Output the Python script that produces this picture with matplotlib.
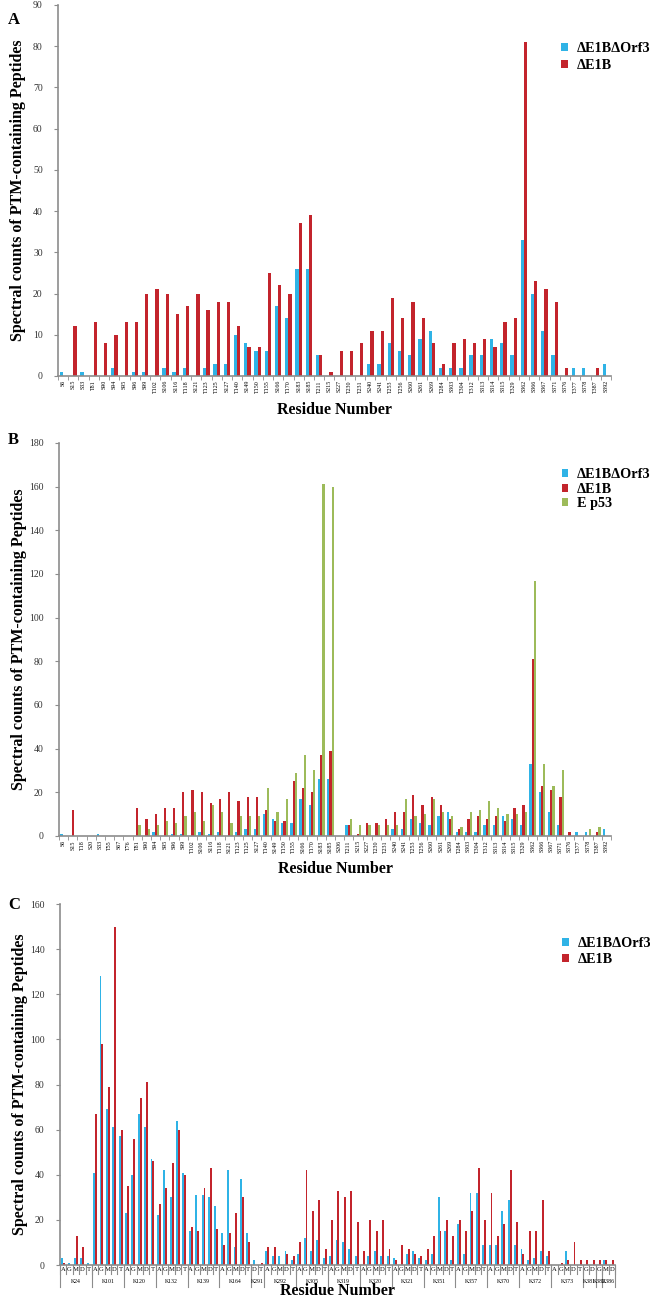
import matplotlib.pyplot as plt
import numpy as np
from matplotlib.transforms import blended_transform_factory

plt.rcParams['font.family'] = ['Liberation Serif', 'DejaVu Serif']

BLUE = '#2FB3E6'
RED = '#C3242C'
GREEN = '#9DBB5A'
GRAY = '#8c8c8c'

# panel A
a_labels = ['S6', 'S15', 'S33', 'T81', 'S90', 'S94', 'S95', 'S96', 'S99', 'T102',
            'S106', 'S116', 'T118', 'S121', 'T123', 'T125', 'S127', 'T140', 'S149', 'T150',
            'T155', 'S166', 'T170', 'S183', 'S185', 'T211', 'S215', 'S227', 'T230', 'T231',
            'S240', 'S241', 'T253', 'T256', 'S260', 'S261', 'S269', 'T284', 'S303', 'T304',
            'T312', 'S313', 'S314', 'S315', 'T329', 'S362', 'S366', 'S367', 'S371', 'S376',
            'T377', 'S378', 'T387', 'S392']
a_orf3 = [1, 0, 1, 0, 0, 2, 0, 1, 1, 0,
          2, 1, 2, 0, 2, 3, 3, 10, 8, 6,
          6, 17, 14, 26, 26, 5, 0, 0, 0, 0,
          3, 3, 8, 6, 5, 9, 11, 2, 2, 2,
          5, 5, 9, 8, 5, 33, 20, 11, 5, 0,
          2, 2, 0, 3]
a_e1b = [0, 12, 0, 13, 8, 10, 13, 13, 20, 21,
         20, 15, 17, 20, 16, 18, 18, 12, 7, 7,
         25, 22, 20, 37, 39, 5, 1, 6, 6, 8,
         11, 11, 19, 14, 18, 14, 8, 3, 8, 9,
         8, 9, 7, 13, 14, 81, 23, 21, 18, 2,
         0, 0, 2, 0]

# panel B
b_labels = ['S6', 'S15', 'T18', 'S20', 'S33', 'T55', 'S67', 'T76', 'T81', 'S90',
            'S94', 'S95', 'S96', 'S99', 'T102', 'S106', 'S116', 'T118', 'S121', 'T123',
            'T125', 'S127', 'T140', 'S149', 'T150', 'T155', 'S166', 'T170', 'S183', 'S185',
            'S206', 'T211', 'S215', 'S227', 'T230', 'T231', 'S240', 'S241', 'T253', 'T256',
            'S260', 'S261', 'S269', 'T284', 'S303', 'T304', 'T312', 'S313', 'S314', 'S315',
            'T329', 'S362', 'S366', 'S367', 'S371', 'S376', 'T377', 'S378', 'T387', 'S392']
b_orf3 = [1, 0, 0, 0, 1, 0, 0, 0, 0, 0,
          2, 0, 1, 1, 0, 2, 1, 2, 0, 2,
          3, 3, 10, 8, 6, 6, 17, 14, 26, 26,
          0, 5, 0, 0, 0, 0, 3, 3, 8, 6,
          5, 9, 11, 2, 2, 2, 5, 5, 9, 8,
          5, 33, 20, 11, 5, 0, 2, 2, 0, 3]
b_e1b = [0, 12, 0, 0, 0, 0, 0, 0, 13, 8,
         10, 13, 13, 20, 21, 20, 15, 17, 20, 16,
         18, 18, 12, 7, 7, 25, 22, 20, 37, 39,
         0, 5, 1, 6, 6, 8, 11, 11, 19, 14,
         18, 14, 8, 3, 8, 9, 8, 9, 7, 13,
         14, 81, 23, 21, 18, 2, 0, 0, 2, 0]
b_p53 = [0, 0, 0, 0, 0, 0, 0, 0, 5, 3,
         5, 7, 6, 9, 11, 7, 14, 11, 6, 9,
         9, 9, 22, 11, 17, 29, 37, 30, 161, 160,
         0, 8, 5, 5, 5, 5, 5, 17, 9, 10,
         17, 11, 9, 4, 11, 12, 16, 13, 10, 10,
         11, 117, 33, 23, 30, 0, 0, 3, 4, 0]

# panel C
c_groups = ['K24', 'K101', 'K120', 'K132', 'K139', 'K164', 'K291', 'K292', 'K305', 'K319',
            'K320', 'K321', 'K351', 'K357', 'K370', 'K372', 'K373', 'K381', 'K382', 'K386']
c_subs = ['AGMDT', 'AGMDT', 'AGMDT', 'AGMDT', 'AGMDT', 'AGMDT', 'DT', 'AGMDT', 'AGMDT', 'AGMDT',
          'AGMDT', 'AGMDT', 'AGMDT', 'AGMDT', 'AGMDT', 'AGMDT', 'AGMDT', 'GD', 'G', 'MD']
c_orf3 = [3, 1, 3, 3, 1,  41, 128, 69, 61, 57,  23, 40, 67, 61, 47,  22, 42, 30, 64, 41,
          15, 31, 31, 30, 26,  14, 42, 8, 38, 14,  2, 0,  6, 4, 4, 6, 2,  5, 12, 6, 11, 3,
          4, 11, 10, 7, 4,  0, 4, 6, 4, 4,  3, 0, 5, 6, 3,  2, 5, 30, 15, 2,
          18, 5, 32, 32, 9,  9, 9, 24, 29, 9,  7, 2, 3, 6, 4,  0, 0, 6, 0, 0,
          0, 0,  0,  2, 0]
c_e1b = [1, 0, 13, 8, 0,  67, 98, 79, 150, 60,  35, 56, 74, 81, 46,  27, 34, 45, 60, 40,
         17, 15, 34, 43, 16,  9, 14, 23, 30, 10,  0, 1,  8, 8, 0, 5, 4,  10, 42, 24, 29, 7,
         20, 33, 30, 33, 19,  6, 20, 15, 20, 7,  2, 9, 7, 5, 4,  7, 13, 15, 20, 13,
         20, 15, 24, 43, 20,  32, 13, 18, 42, 19,  5, 15, 15, 29, 6,  0, 1, 2, 10, 2,
         2, 2,  2,  2, 2]

YLABEL = 'Spectral counts of PTM-containing Peptides'
LEG = dict(loc='upper left', frameon=False, prop={'weight': 'bold', 'size': 10.3},
           handlelength=0.45, handleheight=0.45, handletextpad=0.6, borderaxespad=0)


def style_axis(ax, n, ymax, step, xlab_y):
    ax.set_xlim(-0.5, n - 0.5)
    ax.set_ylim(0, ymax)
    ax.set_yticks(np.arange(0, ymax + 1, step))
    for s in ['top', 'right']:
        ax.spines[s].set_visible(False)
    for s in ['left', 'bottom']:
        ax.spines[s].set_color(GRAY)
        ax.spines[s].set_linewidth(1.2)
    ax.tick_params(axis='y', length=3, color=GRAY, labelsize=7, labelcolor='#333333', pad=8)
    ax.set_ylabel(YLABEL, fontsize=11.5, fontweight='bold')
    ax.yaxis.set_label_coords(-0.058, 0.5)
    ax.text(0.5, xlab_y, 'Residue Number', transform=ax.transAxes, ha='center', va='center',
            fontsize=11.5, fontweight='bold')


def category_ticks(ax, labels):
    n = len(labels)
    ax.set_xticks(np.arange(n))
    ax.set_xticklabels(labels, rotation=90, fontsize=4.3)
    ax.set_xticks(np.arange(n + 1) - 0.5, minor=True)
    ax.tick_params(axis='x', which='major', length=0, pad=3)
    ax.tick_params(axis='x', which='minor', length=3, color=GRAY)


fig = plt.figure(figsize=(6.5, 13.04), dpi=100)

# A
axA = fig.add_axes([0.0892, 0.7117, 0.8508, 0.2845])
x = np.arange(len(a_labels))
w = 0.32
axA.bar(x - w / 2, a_orf3, w, color=BLUE, label='ΔE1BΔOrf3')
axA.bar(x + w / 2, a_e1b, w, color=RED, label='ΔE1B')
style_axis(axA, len(a_labels), 90, 10, -0.092)
category_ticks(axA, a_labels)
axA.legend(bbox_to_anchor=(0.9, 0.915), labelspacing=0.25, **LEG)

# B
axB = fig.add_axes([0.0908, 0.3589, 0.8492, 0.3014])
x = np.arange(len(b_labels))
w = 0.24
axB.bar(x - w, b_orf3, w, color=BLUE, label='ΔE1BΔOrf3')
axB.bar(x, b_e1b, w, color=RED, label='ΔE1B')
axB.bar(x + w, b_p53, w, color=GREEN, label='E p53')
style_axis(axB, len(b_labels), 180, 20, -0.083)
category_ticks(axB, b_labels)
axB.legend(bbox_to_anchor=(0.9, 0.95), labelspacing=0.1, **LEG)

# C
axC = fig.add_axes([0.0923, 0.0299, 0.8538, 0.2768])
letters = ''.join(c_subs)
n = len(letters)
x = np.arange(n)
w = 0.3
axC.bar(x - w / 2, c_orf3, w, color=BLUE, label='ΔE1BΔOrf3')
axC.bar(x + w / 2, c_e1b, w, color=RED, label='ΔE1B')
style_axis(axC, n, 160, 20, -0.072)
axC.set_xticks(x)
axC.set_xticklabels(list(letters), fontsize=4.8)
axC.tick_params(axis='x', length=0, pad=1.5)
tr = blended_transform_factory(axC.transData, axC.transAxes)
starts = np.cumsum([0] + [len(s) for s in c_subs])
for b in range(n + 1):
    axC.plot([b - 0.5, b - 0.5], [0, -0.026], transform=tr, color=GRAY, lw=0.8, clip_on=False)
for g, name in enumerate(c_groups):
    s0, s1 = starts[g], starts[g + 1]
    axC.plot([s0 - 0.5, s0 - 0.5], [0, -0.062], transform=tr, color=GRAY, lw=0.8, clip_on=False)
    axC.text((s0 + s1 - 1) / 2, -0.047, name, transform=tr, ha='center', va='center', fontsize=4.2)
axC.plot([n - 0.5, n - 0.5], [0, -0.062], transform=tr, color=GRAY, lw=0.8, clip_on=False)
axC.legend(bbox_to_anchor=(0.895, 0.925), labelspacing=0.25, **LEG)

for letter, ypix in [('A', 20), ('B', 440), ('C', 905)]:
    fig.text(8 / 650, 1 - ypix / 1304, letter, fontsize=12, fontweight='bold', va='center')

fig.savefig('out.png', dpi=100)
